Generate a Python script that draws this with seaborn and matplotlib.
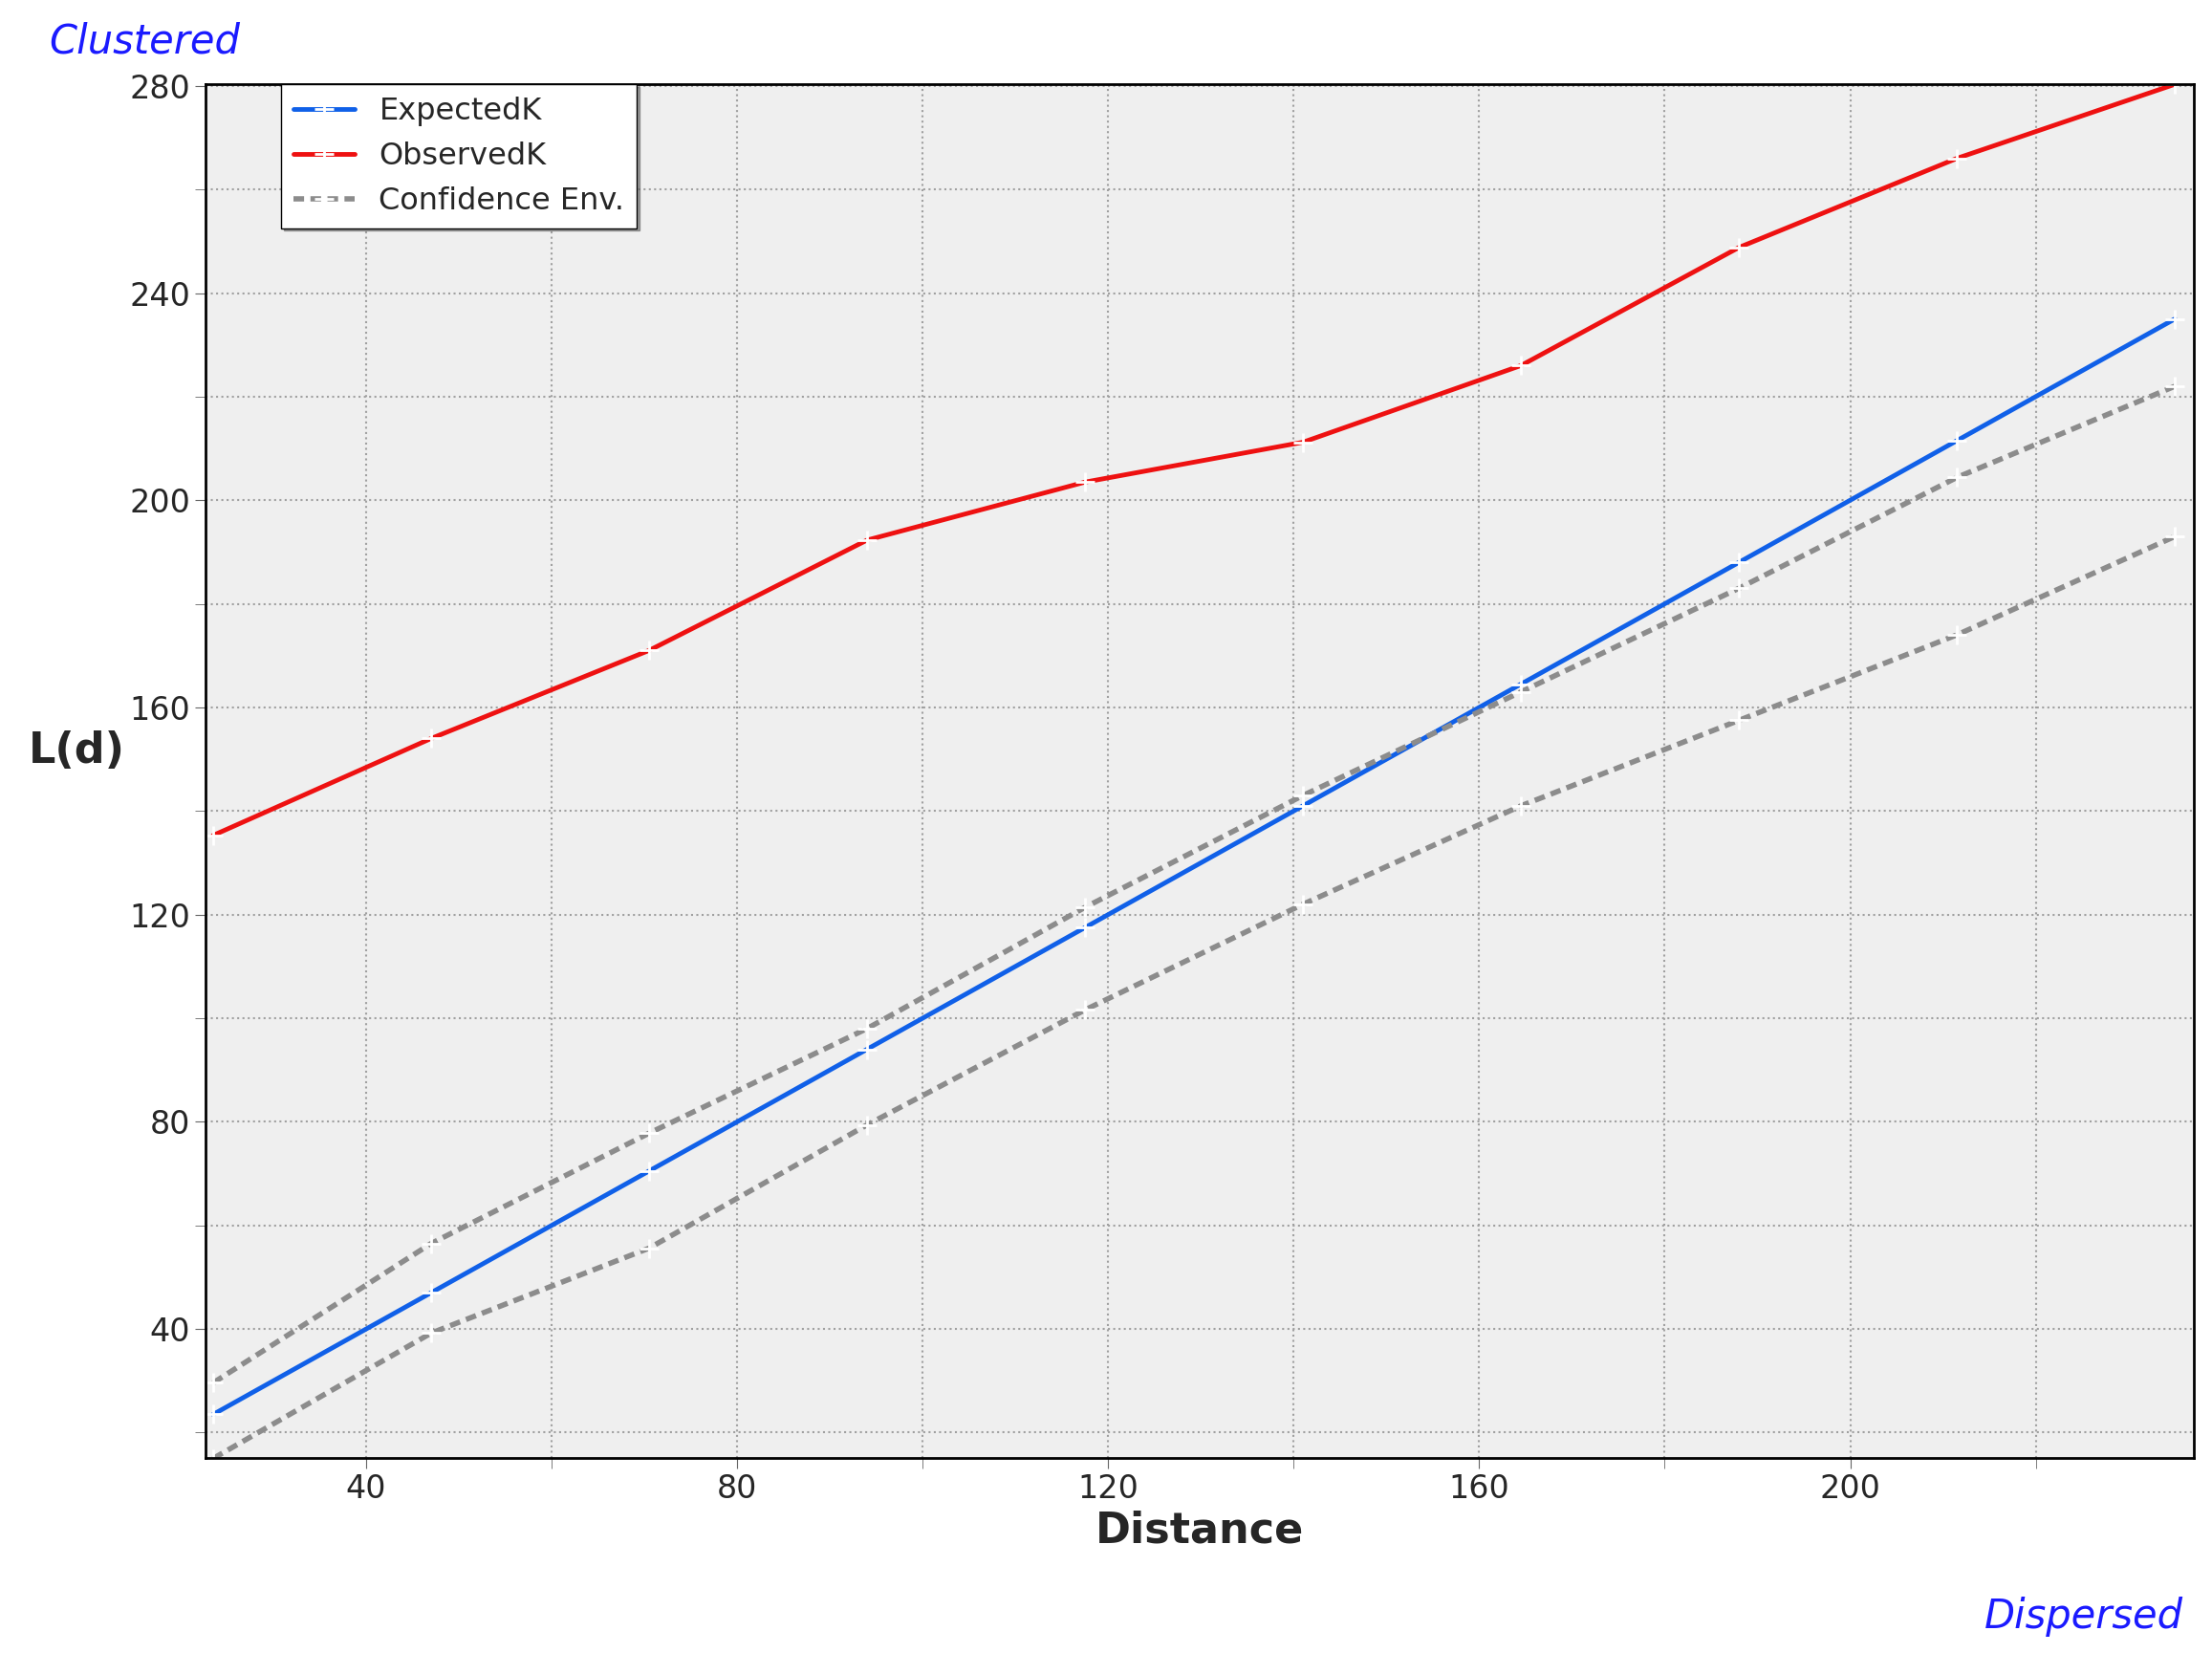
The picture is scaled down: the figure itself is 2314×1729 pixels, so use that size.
import matplotlib
matplotlib.use("Agg")
import matplotlib.pyplot as plt
import seaborn as sns
import pandas as pd
from matplotlib.ticker import MultipleLocator

distance = [23.5, 47, 70.5, 94, 117.5, 141, 164.5, 188, 211.5, 235]
expected = [23.5, 47, 70.5, 94, 117.5, 141, 164.5, 188, 211.5, 235]
observed = [135.3, 154, 171, 192.3, 203.5, 211.2, 226, 248.8, 266, 280.3]
upper_env = [29.6, 56.5, 77.8, 98, 121.4, 143, 163, 183, 204.4, 222]
lower_env = [15, 39.2, 55.6, 79.4, 101.6, 122, 141, 157.5, 174, 193]

sns.set_style("whitegrid")
plt.rcParams['font.family'] = ['DejaVu Sans']
fig = plt.figure(figsize=(23.14, 17.29), dpi=100)
ax = fig.add_axes([0.093, 0.118, 0.899, 0.831])
ax.set_facecolor("#efefef")

df = pd.DataFrame(dict(d=distance, e=expected, o=observed, u=upper_env, l=lower_env))
sns.lineplot(data=df, x="d", y="e", ax=ax, color="#1060e8", lw=3.5, marker="+", ms=14, mew=2, label="ExpectedK")
sns.lineplot(data=df, x="d", y="o", ax=ax, color="#ee1111", lw=3.5, marker="+", ms=14, mew=2, label="ObservedK")
sns.lineplot(data=df, x="d", y="u", ax=ax, color="#8c8c8c", lw=4, marker="+", ms=14, mew=2, label="Confidence Env.")
sns.lineplot(data=df, x="d", y="l", ax=ax, color="#8c8c8c", lw=4, marker="+", ms=14, mew=2)
for ln in ax.lines[2:]:
    ln.set_linestyle((0, (2, 1.2)))

ax.set_xlim(22.7, 237.1)
ax.set_ylim(15.1, 280.3)
ax.xaxis.set_major_locator(MultipleLocator(40))
ax.xaxis.set_minor_locator(MultipleLocator(20))
ax.yaxis.set_major_locator(MultipleLocator(40))
ax.yaxis.set_minor_locator(MultipleLocator(20))
ax.grid(which="both", color="#a0a0a0", ls=":", lw=1.5)
ax.tick_params(which="both", labelsize=24, length=8, color="#666666", direction="out", left=True, bottom=True)
for s in ax.spines.values():
    s.set_color("black")
    s.set_linewidth(2)
ax.set_xlabel("Distance", fontsize=32, fontweight="bold")
ax.set_ylabel("L(d)", fontsize=32, fontweight="bold", rotation=0)
ax.yaxis.set_label_coords(-0.065, 0.5)
leg = ax.legend(loc="upper left", bbox_to_anchor=(0.038, 1.0), fontsize=23, frameon=True,
                fancybox=False, shadow=True, edgecolor="black", borderaxespad=0)
leg.get_frame().set_facecolor("white")
for ln in leg.get_lines()[2:]:
    ln.set_linestyle((0, (2, 1.2)))
fig.text(0.022, 0.975, "Clustered", color="#1a1aff", fontsize=30, style="italic", va="center")
fig.text(0.987, 0.022, "Dispersed", color="#1a1aff", fontsize=30, style="italic", va="center", ha="right")
fig.savefig("out.png", dpi=100)
